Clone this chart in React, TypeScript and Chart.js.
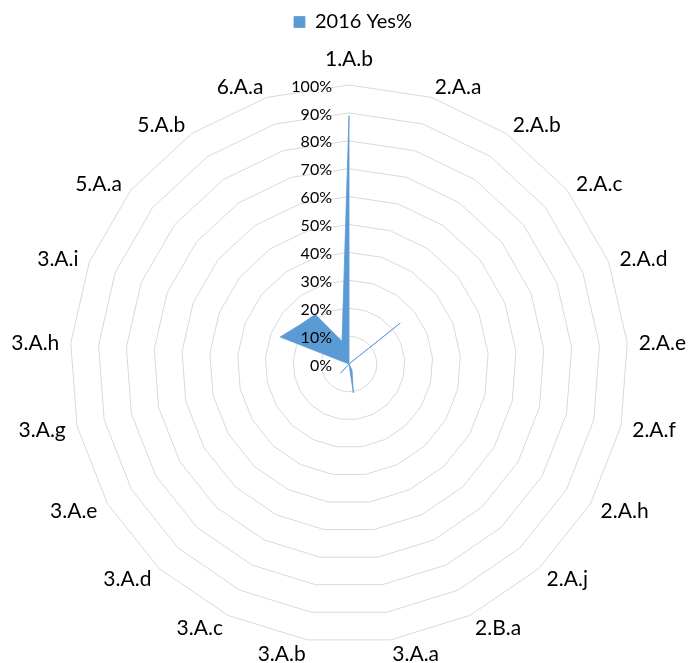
import React, { useEffect, useRef } from "react";
import { Chart, registerables } from "chart.js";

Chart.register(...registerables);

const CATEGORIES: string[] = [
  "1.A.b", "2.A.a", "2.A.b", "2.A.c", "2.A.d", "2.A.e", "2.A.f", "2.A.h", "2.A.j", "2.B.a",
  "3.A.a", "3.A.b", "3.A.c", "3.A.d", "3.A.e", "3.A.g", "3.A.h", "3.A.i", "5.A.a", "5.A.b", "6.A.a",
];
const SERIES_NAME = "2016 Yes%";
const YES_2016: number[] = [
  89, 0, 0, 23.5, 0, 0, 0, 0, 0, 2.5,
  10.5, 0, 0, 4.5, 0, 0, 0, 26.5, 22.5, 21.5, 8.5,
];
const TICK_MIN = 0;
const TICK_MAX = 100;
const TICK_STEP = 10;

const FONT = "Lato";
const BLUE = "#5B9BD5";

// layout of the radial area (center and outer radius)
const CENTER_X = 349;
const CENTER_Y = 364;
const RADIUS = 279;

const excelLabels = {
  id: "excelLabels",
  afterDatasetsDraw(chart: any) {
    const scale = chart.scales.r;
    const ctx = chart.ctx as CanvasRenderingContext2D;
    ctx.save();
    ctx.fillStyle = "#000";
    ctx.textBaseline = "middle";
    // tick labels, right aligned left of the first axis
    ctx.font = `16px ${FONT}`;
    ctx.textAlign = "right";
    scale.ticks.forEach((t: any) => {
      const d = scale.getDistanceFromCenterForValue(t.value);
      ctx.fillText(t.label, scale.xCenter - 17, scale.yCenter - d + 1.5);
    });
    // category labels
    ctx.font = `21px ${FONT}`;
    CATEGORIES.forEach((label, i) => {
      const a = scale.getIndexAngle(i);
      const s = Math.sin(a);
      const c = Math.cos(a);
      const p = scale.getPointPosition(i, scale.drawingArea + 11.5);
      const align: CanvasTextAlign = Math.abs(s) < 0.01 ? "center" : s > 0 ? "left" : "right";
      let y = p.y + 1 + 2 * Math.max(0, -c);
      if (Math.abs(s) < 0.01 && c > 0) y = p.y - 14.5;
      ctx.textAlign = align;
      ctx.fillText(label, p.x, y);
    });
    ctx.restore();
  },
};

export default function App() {
  const ref = useRef<HTMLCanvasElement | null>(null);
  useEffect(() => {
    if (!ref.current) return;
    const chart = new Chart(ref.current, {
      type: "radar",
      data: {
        labels: CATEGORIES,
        datasets: [
          {
            label: SERIES_NAME,
            data: YES_2016,
            backgroundColor: BLUE,
            borderColor: BLUE,
            borderWidth: 0.8,
            pointRadius: 0,
            pointHoverRadius: 0,
            fill: "start",
          },
        ],
      },
      options: {
        responsive: false,
        animation: false,
        devicePixelRatio: 1,
        layout: { padding: { top: 2, left: 16, right: 0, bottom: 0 } },
        plugins: {
          legend: {
            position: "top",
            labels: {
              boxWidth: 11,
              boxHeight: 11,
              color: "#000",
              font: { family: FONT, size: 20 },
              padding: 10,
            },
          },
          tooltip: { enabled: false },
        },
        scales: {
          r: {
            min: TICK_MIN,
            max: TICK_MAX,
            angleLines: { display: false },
            grid: { circular: false, color: "#D9D9D9", lineWidth: 1 },
            ticks: {
              display: false,
              stepSize: TICK_STEP,
              callback: (v: any) => `${v}%`,
            },
            pointLabels: { display: false },
            afterFit: (scale: any) => {
              scale.xCenter = CENTER_X;
              scale.yCenter = CENTER_Y;
              scale.drawingArea = RADIUS;
            },
          } as any,
        },
      },
      plugins: [excelLabels],
    });
    return () => chart.destroy();
  }, []);
  return (
    <div style={{ position: "fixed", left: 0, top: 0, width: 690, height: 663, background: "#fff" }}>
      <canvas ref={ref} width={690} height={663} style={{ display: "block" }} />
    </div>
  );
}
